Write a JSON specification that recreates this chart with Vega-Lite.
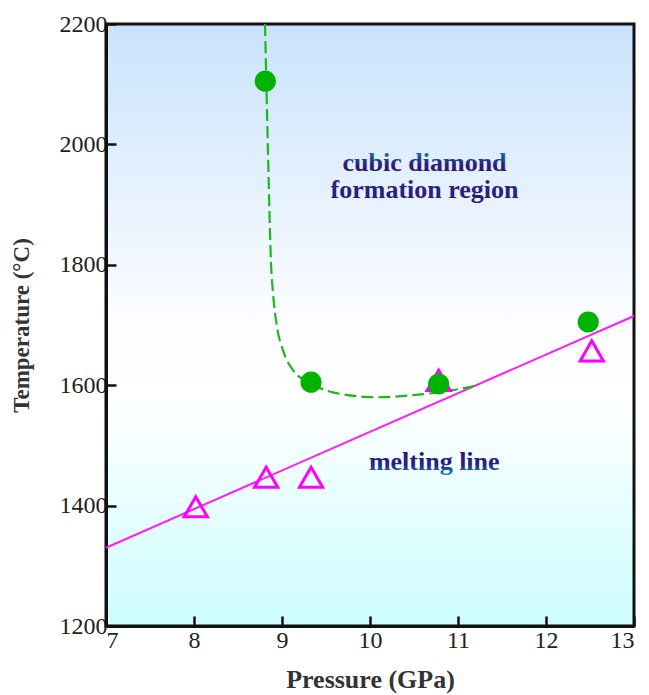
{
  "$schema": "https://vega.github.io/schema/vega-lite/v6.json",
  "width": 528,
  "height": 602,
  "autosize": "none",
  "padding": {"left": 106, "top": 24, "right": 15, "bottom": 69},
  "background": "white",
  "config": {
    "view": {
      "stroke": "#111",
      "strokeWidth": 3,
      "fill": {
        "gradient": "linear",
        "x1": 0, "y1": 0, "x2": 0, "y2": 1,
        "stops": [
          {"offset": 0, "color": "#c9e3fc"},
          {"offset": 0.5, "color": "#fcfdff"},
          {"offset": 0.62, "color": "#ffffff"},
          {"offset": 1, "color": "#ccfdff"}
        ]
      }
    },
    "axis": {
      "labelFont": "Liberation Serif",
      "labelFontSize": 24,
      "labelColor": "#222",
      "titleFont": "Liberation Serif",
      "titleFontWeight": "bold",
      "titleColor": "#333",
      "domainColor": "#111",
      "domainWidth": 3,
      "tickColor": "#111",
      "tickWidth": 2.5,
      "tickSize": -10,
      "grid": false,
      "zindex": 1
    }
  },
  "datasets": {
    "circles": [
      {"pressure": 8.81, "temperature": 2105},
      {"pressure": 9.33, "temperature": 1605},
      {"pressure": 10.78, "temperature": 1602},
      {"pressure": 12.48, "temperature": 1705}
    ],
    "triangles": [
      {"pressure": 8.02, "temperature": 1398},
      {"pressure": 8.82, "temperature": 1447},
      {"pressure": 9.33, "temperature": 1447},
      {"pressure": 10.78, "temperature": 1608},
      {"pressure": 12.52, "temperature": 1657}
    ],
    "melting": [
      {"pressure": 7, "temperature": 1330},
      {"pressure": 13, "temperature": 1715}
    ],
    "boundary": [
      {"pressure": 8.807, "temperature": 2200},
      {"pressure": 8.84, "temperature": 1991},
      {"pressure": 8.875, "temperature": 1803},
      {"pressure": 8.898, "temperature": 1753},
      {"pressure": 8.943, "temperature": 1697},
      {"pressure": 9.011, "temperature": 1658},
      {"pressure": 9.125, "temperature": 1625},
      {"pressure": 9.318, "temperature": 1604},
      {"pressure": 9.58, "temperature": 1588},
      {"pressure": 10.08, "temperature": 1580},
      {"pressure": 10.455, "temperature": 1583},
      {"pressure": 10.91, "temperature": 1591},
      {"pressure": 11.2, "temperature": 1599}
    ],
    "label1": [{"pressure": 10.62, "temperature": 1969, "text": "cubic diamond"}],
    "label2": [{"pressure": 10.62, "temperature": 1924, "text": "formation region"}],
    "label3": [{"pressure": 10.73, "temperature": 1472, "text": "melting line"}]
  },
  "layer": [
    {
      "data": {"name": "melting"},
      "mark": {"type": "line", "color": "#ff1aff", "strokeWidth": 2},
      "encoding": {
        "x": {"field": "pressure", "type": "quantitative", "scale": {"domain": [7, 13], "nice": false, "zero": false},
          "axis": {"values": [7, 8, 9, 10, 11, 12, 13], "format": "d", "title": "Pressure (GPa)", "titleFontSize": 26, "labelPadding": 12, "titlePadding": 14}},
        "y": {"field": "temperature", "type": "quantitative", "scale": {"domain": [1200, 2200], "nice": false, "zero": false},
          "axis": {"values": [1200, 1400, 1600, 1800, 2000, 2200], "format": "d", "title": "Temperature (°C)", "titleFontSize": 23, "labelPadding": 9, "titlePadding": 26}}
      }
    },
    {
      "data": {"name": "boundary"},
      "mark": {"type": "line", "color": "#1db81d", "strokeWidth": 2.2, "strokeDash": [12, 5], "interpolate": "monotone"},
      "encoding": {
        "x": {"field": "pressure", "type": "quantitative"},
        "y": {"field": "temperature", "type": "quantitative"}
      }
    },
    {
      "data": {"name": "triangles"},
      "mark": {"type": "point", "shape": "triangle-up", "filled": false, "color": "#ff00ff", "strokeWidth": 3, "size": 540, "opacity": 1},
      "encoding": {
        "x": {"field": "pressure", "type": "quantitative"},
        "y": {"field": "temperature", "type": "quantitative"}
      }
    },
    {
      "data": {"name": "circles"},
      "mark": {"type": "circle", "color": "#00b300", "size": 450, "opacity": 1},
      "encoding": {
        "x": {"field": "pressure", "type": "quantitative"},
        "y": {"field": "temperature", "type": "quantitative"}
      }
    },
    {
      "data": {"name": "label1"},
      "mark": {"type": "text", "font": "Liberation Serif", "fontWeight": "bold", "fontSize": 26, "baseline": "middle", "align": "center",
        "color": {"gradient": "linear", "x1": 0, "y1": 0, "x2": 0, "y2": 1,
          "stops": [{"offset": 0, "color": "#0e8fb2"}, {"offset": 0.35, "color": "#22488f"}, {"offset": 0.6, "color": "#2b1d7a"}, {"offset": 1, "color": "#2b1575"}]}},
      "encoding": {
        "x": {"field": "pressure", "type": "quantitative"},
        "y": {"field": "temperature", "type": "quantitative"},
        "text": {"field": "text"}
      }
    },
    {
      "data": {"name": "label2"},
      "mark": {"type": "text", "font": "Liberation Serif", "fontWeight": "bold", "fontSize": 26, "baseline": "middle", "align": "center",
        "color": {"gradient": "linear", "x1": 0, "y1": 0, "x2": 0, "y2": 1,
          "stops": [{"offset": 0, "color": "#2a2f85"}, {"offset": 1, "color": "#2b1575"}]}},
      "encoding": {
        "x": {"field": "pressure", "type": "quantitative"},
        "y": {"field": "temperature", "type": "quantitative"},
        "text": {"field": "text"}
      }
    },
    {
      "data": {"name": "label3"},
      "mark": {"type": "text", "font": "Liberation Serif", "fontWeight": "bold", "fontSize": 26, "baseline": "middle", "align": "center",
        "color": {"gradient": "linear", "x1": 0, "y1": 0, "x2": 0, "y2": 1,
          "stops": [{"offset": 0, "color": "#2b1575"}, {"offset": 0.6, "color": "#2a2080"}, {"offset": 1, "color": "#0a9cc4"}]}},
      "encoding": {
        "x": {"field": "pressure", "type": "quantitative"},
        "y": {"field": "temperature", "type": "quantitative"},
        "text": {"field": "text"}
      }
    }
  ]
}
